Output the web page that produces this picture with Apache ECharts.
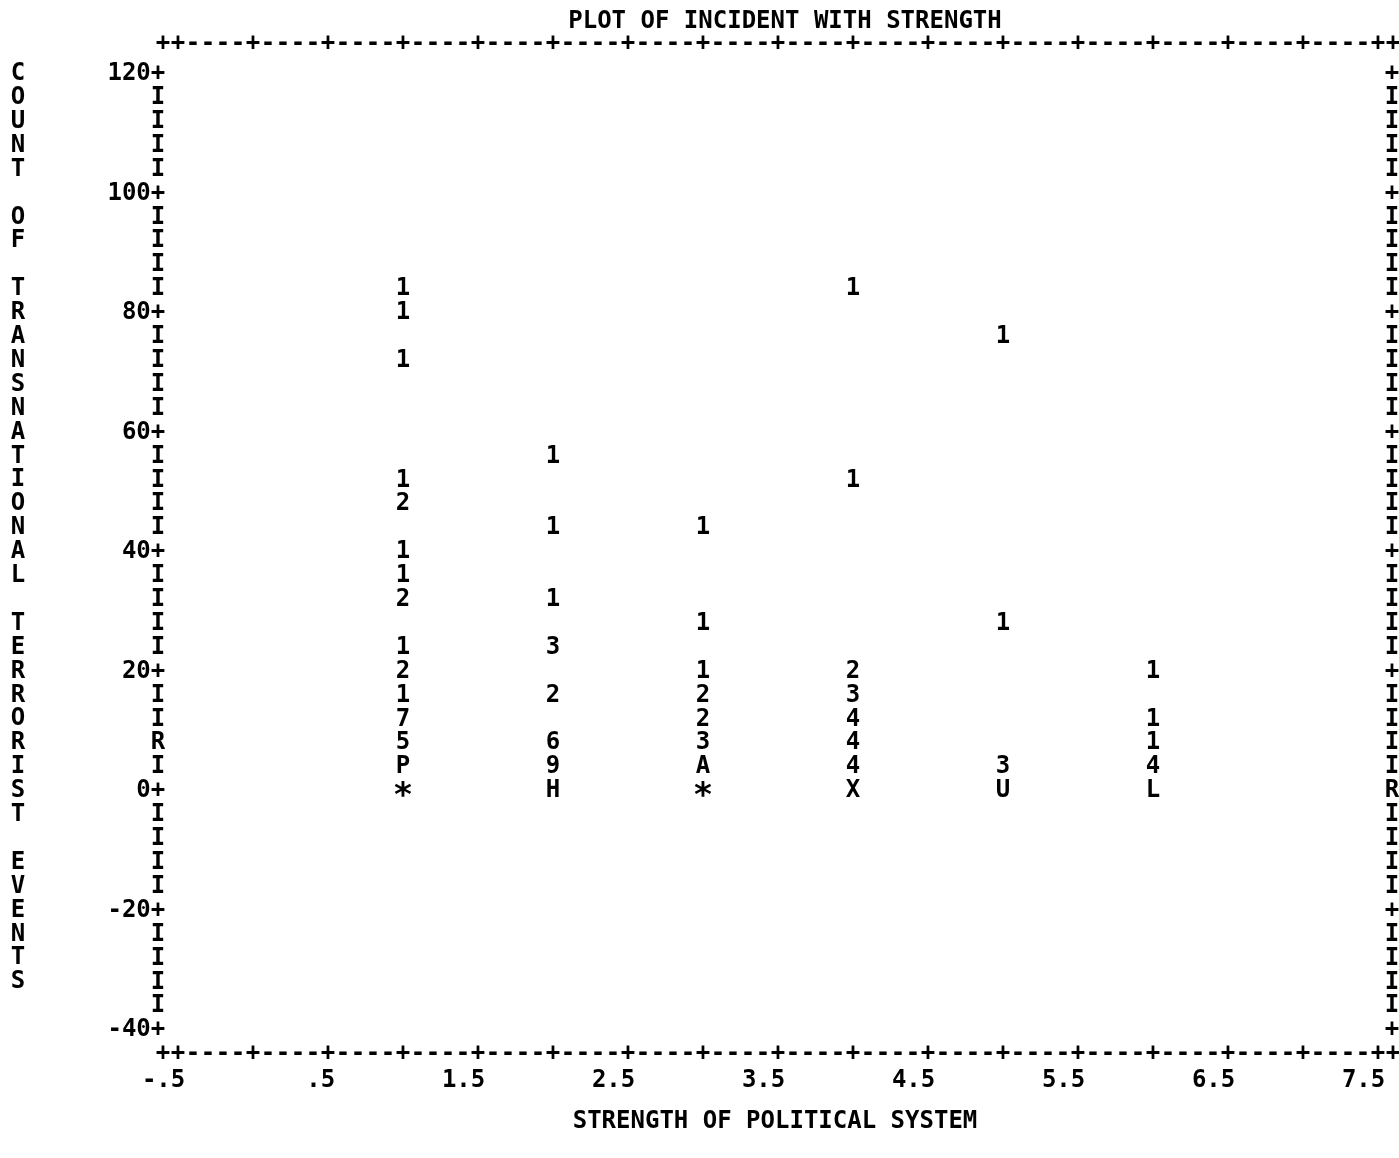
<!DOCTYPE html>
<html>
<head>
<meta charset="utf-8">
<script src="https://cdn.jsdelivr.net/npm/echarts@6/dist/echarts.min.js"></script>
<style>
  html, body { margin: 0; padding: 0; background: #fff; }
  #main { width: 1399px; height: 1158px; }
</style>
</head>
<body>
<div id="main"></div>
<script>
// printer plot: one symbol per cell, digits/letters = number of cases
var strength = [1, 2, 3, 4, 5, 6];
var rows1 = [84, 80, 72, 52, 48, 40, 36, 32, 24, 20, 16, 12, 8, 4, 0];
var syms1 = ['1','1','1','1','2','1','1','2','1','2','1','7','5','P','*'];
var rows2 = [56, 44, 32, 24, 16, 8, 4, 0];
var syms2 = ['1','1','1','3','2','6','9','H'];
var rows3 = [44, 28, 20, 16, 12, 8, 4, 0];
var syms3 = ['1','1','1','2','2','3','A','*'];
var rows4 = [84, 52, 20, 16, 12, 8, 4, 0];
var syms4 = ['1','1','2','3','4','4','4','X'];
var rows5 = [76, 28, 4, 0];
var syms5 = ['1','1','3','U'];
var rows6 = [20, 12, 8, 4, 0];
var syms6 = ['1','1','1','4','L'];

var xTickLabels = ['-.5', '.5', '1.5', '2.5', '3.5', '4.5', '5.5', '6.5', '7.5'];
var yTickValues = [120, 100, 80, 60, 40, 20, 0, -20, -40];

var title = 'PLOT OF INCIDENT WITH STRENGTH';
var xName = 'STRENGTH OF POLITICAL SYSTEM';
var yName = 'COUNT OF TRANSNATIONAL TERRORIST EVENTS';

var FONT = 'DejaVu Sans Mono';
var FS = 24;

var allRows = [rows1, rows2, rows3, rows4, rows5, rows6];
var allSyms = [syms1, syms2, syms3, syms4, syms5, syms6];
var points = [];
strength.forEach(function (x, i) {
  allRows[i].forEach(function (y, j) {
    points.push([x, y, allSyms[i][j]]);
  });
});

// pad so the last character lands on the anchor when centred
function lastOnAnchor(s) {
  return s + new Array(s.length).join(' ');
}
function tenths(v) { return Math.round(v * 10); }

var labelFont = { fontFamily: FONT, fontSize: FS, fontWeight: 'bold', color: '#000' };

function borderX(v) {
  var n = tenths(v);
  if (n === -6 || n === 76) return '+';
  return n % 5 === 0 ? '+' : '-';
}

var myChart = echarts.init(document.getElementById('main'));

var option = {
  backgroundColor: '#fff',
  animation: false,
  grid: { left: 163, right: 6, top: 50, bottom: 104, outerBoundsMode: 'none' },
  xAxis: [
    {
      type: 'value', position: 'bottom', min: -0.6, max: 7.6, interval: 0.1,
      axisLine: { show: false }, axisTick: { show: false }, splitLine: { show: false },
      axisLabel: Object.assign({
        margin: 0, verticalAlign: 'middle', align: 'center', hideOverlap: false,
        formatter: borderX
      }, labelFont)
    },
    {
      type: 'value', position: 'top', min: -0.6, max: 7.6, interval: 0.1,
      axisLine: { show: false }, axisTick: { show: false }, splitLine: { show: false },
      axisLabel: Object.assign({
        margin: 6, verticalAlign: 'middle', align: 'center', hideOverlap: false,
        formatter: borderX
      }, labelFont)
    },
    {
      type: 'value', position: 'bottom', min: -0.6, max: 7.6, interval: 0.1,
      axisLine: { show: false }, axisTick: { show: false }, splitLine: { show: false },
      axisLabel: Object.assign({
        margin: 27, verticalAlign: 'middle', align: 'center', hideOverlap: false,
        formatter: function (v) {
          var n = tenths(v);
          if ((n + 5) % 10 !== 0) return '';
          var idx = (n + 5) / 10;
          return xTickLabels[idx] ? lastOnAnchor(xTickLabels[idx]) : '';
        }
      }, labelFont)
    }
  ],
  yAxis: [
    {
      type: 'value', position: 'left', min: -44, max: 124, interval: 4,
      axisLine: { show: false }, axisTick: { show: false }, splitLine: { show: false },
      axisLabel: Object.assign({
        margin: 5, align: 'center', verticalAlign: 'middle', hideOverlap: false,
        formatter: function (v) {
          if (v === 124 || v === -44) return '';
          if (yTickValues.indexOf(v) >= 0) return lastOnAnchor(v + '+');
          if (v === 8) return 'R';
          return 'I';
        }
      }, labelFont)
    },
    {
      type: 'value', position: 'right', min: -44, max: 124, interval: 4,
      axisLine: { show: false }, axisTick: { show: false }, splitLine: { show: false },
      axisLabel: Object.assign({
        margin: -1, align: 'center', verticalAlign: 'middle', hideOverlap: false,
        formatter: function (v) {
          if (v === 124 || v === -44) return '';
          if (v === 0) return 'R';
          return yTickValues.indexOf(v) >= 0 ? '+' : 'I';
        }
      }, labelFont)
    }
  ],
  graphic: [
    {
      type: 'text', x: 785, y: 22,
      style: { text: title, textAlign: 'center', textVerticalAlign: 'middle',
        font: 'bold ' + FS + 'px ' + FONT, fill: '#000' }
    },
    {
      type: 'text', x: 775, y: 1122,
      style: { text: xName, textAlign: 'center', textVerticalAlign: 'middle',
        font: 'bold ' + FS + 'px ' + FONT, fill: '#000' }
    },
    {
      type: 'text', x: 18, y: 62,
      style: { text: yName.split('').join('\n'), textAlign: 'center', textVerticalAlign: 'top',
        lineHeight: 23.9, font: 'bold ' + FS + 'px ' + FONT, fill: '#000' }
    }
  ],
  series: [
    {
      type: 'scatter',
      xAxisIndex: 0, yAxisIndex: 0,
      symbol: 'circle', symbolSize: 1,
      itemStyle: { color: 'rgba(0,0,0,0)', opacity: 1 },
      label: Object.assign({
        show: true, position: 'inside',
        formatter: function (p) {
          return p.data[2] === '*' ? '{star|*}' : p.data[2];
        },
        rich: {
          star: { fontFamily: FONT, fontSize: 34, fontWeight: 'bold', color: '#000',
            padding: [12, 0, 0, 0] }
        }
      }, labelFont),
      data: points
    }
  ]
};

myChart.setOption(option);
</script>
</body>
</html>
